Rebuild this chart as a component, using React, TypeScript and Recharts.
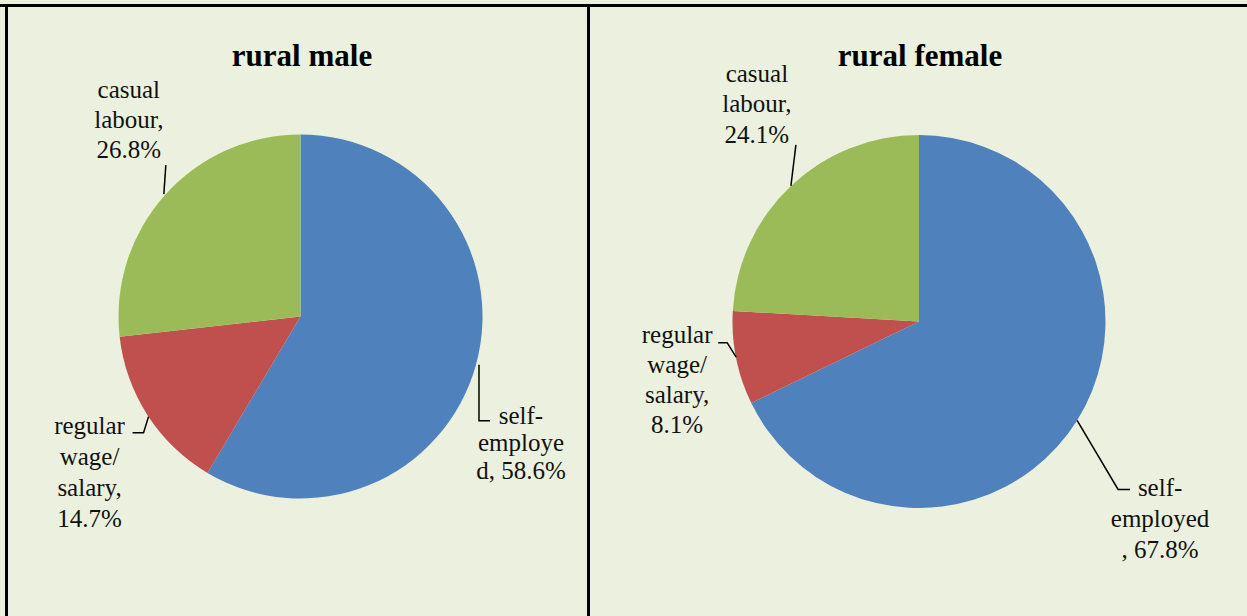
import { PieChart, Pie, Cell } from "recharts";

// categories and shares (%)
const categories = ["self-employed", "regular wage/salary", "casual labour"];
const ruralMale = [58.6, 14.7, 26.8];
const ruralFemale = [67.8, 8.1, 24.1];
const titles = ["rural male", "rural female"];
const colors = ["#4F81BD", "#C0504D", "#9BBB59"];

const RADIAN = Math.PI / 180;
const pct = (v: number) => `${v.toFixed(1)}%`;

// label text split into lines, the way the original wraps them
const maleLines = [
  ["self-", "employe", `d, ${pct(ruralMale[0])}`],
  ["regular", "wage/", "salary,", pct(ruralMale[1])],
  ["casual", "labour,", pct(ruralMale[2])],
];
const femaleLines = [
  ["self-", "employed", `, ${pct(ruralFemale[0])}`],
  ["regular", "wage/", "salary,", pct(ruralFemale[1])],
  ["casual", "labour,", pct(ruralFemale[2])],
];

type LabelLayout = { lead: number[][]; dx: number; dy: number; lh: number };

// leader line + text offsets, relative to the slice's outer midpoint
const maleLayout: LabelLayout[] = [
  { lead: [[3, 0], [3, 56], [14, 56]], dx: 45, dy: 59, lh: 27.5 },
  { lead: [[1, 1.5], [-4, 17.5], [-15, 17.5]], dx: -58, dy: 18.5, lh: 31 },
  { lead: [[-1, -1], [1, -30]], dx: -36, dy: -97, lh: 30 },
];
const femaleLayout: LabelLayout[] = [
  { lead: [[0, 0], [41, 69], [53, 69]], dx: 83, dy: 76, lh: 31 },
  { lead: [[0, -1], [-9, -15.5], [-18, -15.5]], dx: -59, dy: -15, lh: 30 },
  { lead: [[0, 0], [5, -41]], dx: -34, dy: -104, lh: 30.5 },
];

const makeLabel = (lines: string[][], layout: LabelLayout[]) => (props: any) => {
  const { cx, cy, midAngle, outerRadius, index } = props;
  const px = cx + outerRadius * Math.cos(-midAngle * RADIAN);
  const py = cy + outerRadius * Math.sin(-midAngle * RADIAN);
  const l = layout[index];
  const d = l.lead
    .map((p, i) => `${i === 0 ? "M" : "L"}${px + p[0]},${py + p[1]}`)
    .join(" ");
  return (
    <g key={`lbl-${index}`}>
      <path d={d} stroke="#000" strokeWidth={1.5} fill="none" />
      <text
        x={px + l.dx}
        y={py + l.dy}
        textAnchor="middle"
        fontFamily="Liberation Serif"
        fontSize={25}
        fill="#111"
      >
        {lines[index].map((t, i) => (
          <tspan key={i} x={px + l.dx} y={py + l.dy + i * l.lh}>
            {t}
          </tspan>
        ))}
      </text>
    </g>
  );
};

const toRows = (vals: number[]) => categories.map((name, i) => ({ name, value: vals[i] }));
const noMargin = { top: 0, right: 0, bottom: 0, left: 0 };

export default function App() {
  return (
    <div
      style={{
        position: "absolute",
        left: 0,
        top: 0,
        width: 1247,
        height: 616,
        background: "#EBF1DE",
        overflow: "hidden",
      }}
    >
      {/* table borders */}
      <div style={{ position: "absolute", left: 0, top: 4, width: 1247, height: 3, background: "#000" }} />
      <div style={{ position: "absolute", left: 5, top: 4, width: 3, height: 612, background: "#000" }} />
      <div style={{ position: "absolute", left: 587, top: 4, width: 3, height: 612, background: "#000" }} />

      <div style={{ position: "absolute", left: 8, top: 7 }}>
        <PieChart width={579} height={609} margin={noMargin}>
          <Pie
            data={toRows(ruralMale)}
            dataKey="value"
            nameKey="name"
            cx={292.5}
            cy={309.5}
            outerRadius={182}
            startAngle={90}
            endAngle={-270}
            stroke="none"
            labelLine={false}
            label={makeLabel(maleLines, maleLayout)}
            isAnimationActive={false}
          >
            {categories.map((c, i) => (
              <Cell key={c} fill={colors[i]} />
            ))}
          </Pie>
        </PieChart>
      </div>

      <div style={{ position: "absolute", left: 590, top: 7 }}>
        <PieChart width={657} height={609} margin={noMargin}>
          <Pie
            data={toRows(ruralFemale)}
            dataKey="value"
            nameKey="name"
            cx={329}
            cy={314.5}
            outerRadius={186.5}
            startAngle={90}
            endAngle={-270}
            stroke="none"
            labelLine={false}
            label={makeLabel(femaleLines, femaleLayout)}
            isAnimationActive={false}
          >
            {categories.map((c, i) => (
              <Cell key={c} fill={colors[i]} />
            ))}
          </Pie>
        </PieChart>
      </div>

      {/* chart titles */}
      <svg width={1247} height={616} style={{ position: "absolute", left: 0, top: 0, pointerEvents: "none" }}>
        {titles.map((t, i) => (
          <text
            key={t}
            x={i === 0 ? 302 : 920}
            y={66}
            textAnchor="middle"
            fontFamily="Liberation Serif"
            fontWeight="bold"
            fontSize={31}
            fill="#000"
          >
            {t}
          </text>
        ))}
      </svg>
    </div>
  );
}
